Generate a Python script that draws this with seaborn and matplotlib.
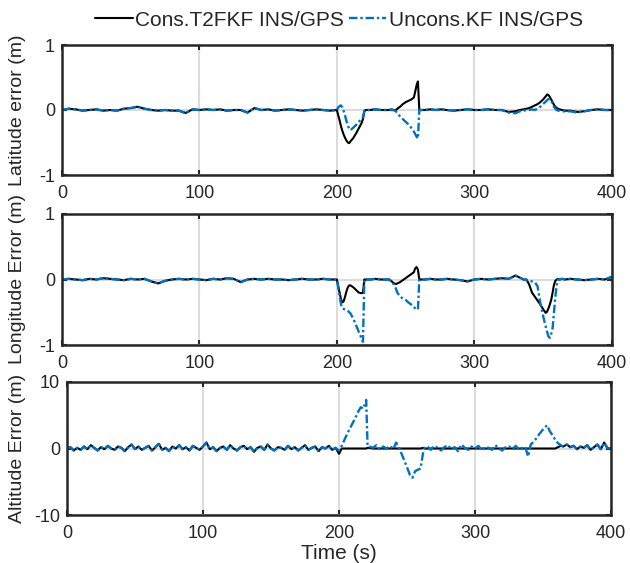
import matplotlib
matplotlib.use("Agg")
import matplotlib.pyplot as plt
import seaborn as sns

# ---------------- data ----------------
labels = ["Cons.T2FKF INS/GPS", "Uncons.KF INS/GPS"]

# sample times (s) for the horizontal position errors
t_hz = [0, 5, 10, 15, 20, 25, 30, 35, 40, 45, 50, 55, 60, 65, 70, 75, 80, 85, 90, 95,
        100, 105, 110, 115, 120, 125, 130, 135, 140, 145, 150, 155, 160, 165, 170, 175,
        180, 185, 190, 195,
        200, 201, 202, 203, 204, 205, 206, 207, 208, 209, 210,
        212, 214, 216, 218, 219, 220, 221,
        224, 228, 232, 236, 238, 240, 241, 242, 243, 244,
        246, 248, 250, 252, 254, 256, 257, 258, 259, 260, 261,
        264, 268, 272, 276, 280, 285, 290, 295, 300, 305, 310, 315, 320, 325, 330,
        333, 336, 338, 340, 342, 344, 346, 348, 350, 352,
        353, 354, 355, 356, 357, 358, 359, 360, 361, 362,
        364, 366, 370, 375, 380, 385, 390, 395, 400]

lat_cons = [0.00, 0.02, 0.01, -0.01, 0.00, 0.01, -0.01, 0.00, -0.01, 0.02,
            0.03, 0.05, 0.02, 0.00, -0.01, 0.00, -0.01, -0.01, -0.045, 0.01,
            0.00, 0.01, 0.00, 0.01, -0.01, 0.00, 0.00, -0.04, 0.03, 0.00,
            0.01, -0.01, 0.00, 0.01, 0.00, -0.01, 0.00, 0.01, 0.00, -0.01,
            0.00, -0.08, -0.16, -0.25, -0.32, -0.38, -0.43, -0.47, -0.50, -0.51, -0.48,
            -0.43, -0.36, -0.28, -0.20, -0.14, -0.02, 0.00,
            0.00, 0.01, 0.00, 0.00, 0.00, 0.01, 0.00, 0.00, 0.00, 0.02,
            0.05, 0.09, 0.12, 0.14, 0.16, 0.19, 0.28, 0.38, 0.44, 0.00, 0.00,
            0.00, 0.01, 0.00, 0.01, 0.00, -0.01, 0.00, 0.01, 0.00, 0.00, 0.01, 0.00, 0.00, -0.03, -0.02,
            0.00, 0.01, 0.02, 0.03, 0.05, 0.07, 0.09, 0.12, 0.16, 0.21,
            0.24, 0.23, 0.20, 0.16, 0.12, 0.08, 0.05, 0.03, 0.02, 0.01,
            0.00, -0.01, -0.01, -0.03, -0.02, 0.00, 0.01, 0.00, 0.00]

lat_uncons = [0.00, 0.02, 0.01, -0.01, 0.00, 0.01, -0.01, 0.00, -0.01, 0.02,
              0.03, 0.05, 0.02, 0.00, -0.01, 0.00, -0.01, -0.01, -0.05, 0.01,
              0.00, 0.01, 0.00, 0.01, -0.01, 0.00, 0.00, -0.04, 0.03, 0.00,
              0.01, -0.01, 0.00, 0.01, 0.00, -0.01, 0.00, 0.01, 0.00, -0.01,
              0.00, 0.04, 0.06, 0.07, 0.04, -0.02, -0.09, -0.17, -0.24, -0.29, -0.31,
              -0.27, -0.23, -0.18, -0.14, -0.11, -0.01, 0.00,
              0.00, 0.01, 0.00, 0.00, 0.00, 0.00, 0.00, -0.01, -0.02, -0.05,
              -0.10, -0.14, -0.18, -0.22, -0.27, -0.33, -0.37, -0.41, -0.44, 0.00, 0.00,
              0.00, 0.01, 0.00, 0.01, 0.00, -0.01, 0.00, 0.01, 0.00, 0.00, 0.01, 0.00, 0.00, -0.04, -0.05,
              -0.02, -0.01, 0.00, 0.00, 0.01, 0.00, 0.02, 0.05, 0.09, 0.13,
              0.15, 0.17, 0.17, 0.14, 0.10, 0.05, 0.02, 0.00, -0.01, -0.01,
              -0.02, -0.02, -0.02, -0.04, -0.02, 0.00, 0.01, 0.00, 0.00]

lon_cons = [0.00, 0.01, 0.00, -0.01, 0.01, 0.00, 0.02, 0.01, 0.00, -0.01,
            0.01, 0.00, 0.01, -0.03, -0.06, -0.02, 0.00, 0.01, 0.00, 0.01,
            0.00, -0.01, 0.01, 0.00, 0.02, 0.01, -0.04, 0.00, 0.01, 0.00,
            0.01, 0.00, 0.00, -0.01, 0.00, 0.01, 0.00, 0.00, 0.01, 0.00,
            0.00, -0.10, -0.20, -0.30, -0.35, -0.33, -0.26, -0.18, -0.12, -0.09, -0.09,
            -0.12, -0.16, -0.20, -0.21, -0.20, 0.00, 0.00,
            0.00, 0.01, 0.00, 0.00, 0.00, -0.03, -0.05, -0.06, -0.07, -0.06,
            -0.04, -0.01, 0.02, 0.05, 0.08, 0.11, 0.17, 0.19, 0.15, 0.00, 0.00,
            0.00, 0.01, 0.00, 0.00, 0.01, 0.00, -0.01, -0.03, 0.00, 0.01, 0.00, 0.01, 0.02, 0.01, 0.06,
            0.03, 0.00, 0.00, -0.08, -0.20, -0.26, -0.32, -0.38, -0.45, -0.51,
            -0.49, -0.44, -0.38, -0.31, -0.20, -0.08, -0.02, 0.00, 0.01, 0.00,
            0.01, 0.00, 0.01, 0.00, -0.01, 0.00, 0.01, 0.00, 0.04]

lon_uncons = [0.00, 0.01, 0.00, -0.01, 0.01, 0.00, 0.02, 0.01, 0.00, -0.01,
              0.01, 0.00, 0.01, -0.03, -0.06, -0.02, 0.00, 0.01, 0.00, 0.01,
              0.00, -0.01, 0.01, 0.00, 0.02, 0.01, -0.04, 0.00, 0.01, 0.00,
              0.01, 0.00, 0.00, -0.01, 0.00, 0.01, 0.00, 0.00, 0.01, 0.00,
              0.00, -0.12, -0.25, -0.38, -0.44, -0.45, -0.46, -0.47, -0.48, -0.50, -0.52,
              -0.60, -0.70, -0.80, -0.90, -0.95, 0.00, 0.00,
              0.00, 0.01, 0.00, 0.00, 0.00, -0.03, -0.06, -0.10, -0.14, -0.20,
              -0.26, -0.29, -0.31, -0.35, -0.38, -0.42, -0.44, -0.45, -0.46, 0.00, 0.00,
              0.00, 0.01, 0.00, 0.00, 0.01, 0.00, -0.01, -0.03, 0.00, 0.01, 0.00, 0.01, 0.02, 0.01, 0.06,
              0.03, 0.00, -0.01, -0.02, -0.03, -0.04, -0.10, -0.35, -0.55, -0.72,
              -0.80, -0.87, -0.89, -0.83, -0.74, -0.50, -0.27, -0.08, 0.00, 0.00,
              0.01, 0.00, 0.01, 0.00, -0.01, 0.00, 0.01, 0.00, 0.04]

# sample times (s) for the altitude error
t_alt = [0, 2.5, 5, 7.5, 10, 12.5, 15, 17.5, 20, 22.5, 25, 27.5, 30, 32.5, 35, 37.5,
         40, 42.5, 45, 47.5, 50, 52.5, 55, 57.5, 60, 62.5, 65, 67.5, 70, 72.5, 75, 77.5,
         80, 82.5, 85, 87.5, 90, 92.5, 95, 97.5, 100, 102.5, 105, 107.5, 110, 112.5,
         115, 117.5, 120, 122.5, 125, 127.5, 130, 132.5, 135, 137.5, 140, 142.5, 145,
         147.5, 150, 152.5, 155, 157.5, 160, 162.5, 165, 167.5, 170, 172.5, 175, 177.5,
         180, 182.5, 185, 187.5, 190, 192.5, 195, 197.5,
         200, 202, 204, 206, 208, 210, 212, 214, 216, 218, 220, 221, 222.5,
         225, 227.5, 230, 232.5, 235, 237.5, 240,
         242, 244, 246, 248, 250, 252, 254, 256, 258, 260, 262, 263,
         265, 267.5, 270, 272.5, 275, 277.5, 280, 282.5, 285, 287.5, 290, 292.5, 295,
         297.5, 300, 302.5, 305, 307.5, 310, 312.5, 315, 317.5, 320, 322.5, 325, 327.5,
         330, 332.5, 335,
         337, 339, 341, 343, 345, 347, 349, 351, 353, 355, 357, 359, 361, 363,
         365, 367.5, 370, 372.5, 375, 377.5, 380, 382.5, 385, 387.5, 390, 392.5, 395,
         397.5, 400]

# altitude error while GPS is available (both filters coincide)
alt_gps_head = [0.0, 0.2, -0.3, 0.1, -0.2, 0.3, -0.1, 0.5, 0.1, -0.3,
                0.2, -0.1, 0.4, 0.0, -0.2, 0.3, 0.1, -0.4, 0.2, 0.6,
                -0.1, 0.3, -0.2, 0.1, 0.4, -0.3, 0.2, 0.7, -0.2, 0.1,
                -0.4, 0.3, 0.0, 0.5, -0.1, 0.2, -0.3, 0.4, 0.1, -0.2,
                0.3, 0.9, -0.1, 0.2, -0.4, 0.1, 0.3, -0.2, 0.5, 0.0,
                -0.3, 0.2, 0.4, -0.1, 0.2, -0.5, 0.1, 0.3, -0.2, 0.6,
                0.0, -0.3, 0.2, 0.1, -0.2, 0.4, -0.1, 0.2, -0.3, 0.1,
                0.5, -0.2, 0.1, 0.3, -0.4, 0.2, 0.0, 0.4, -0.2, 0.1]
alt_gps_tail = [0.3, 0.6, 0.2, 0.4, -0.1, 0.3, 0.1, 0.5, -0.2, 0.2,
                0.6, -0.1, 0.9, 0.0, 0.1]

alt_cons = alt_gps_head + [
    -0.8, 0.0, 0.0, 0.0, 0.0, 0.0, 0.0, 0.0, 0.0, 0.0, 0.0, 0.1, 0.1,
    0.0, 0.0, 0.0, 0.0, 0.0, 0.0, 0.0,
    0.0, 0.0, 0.0, 0.0, 0.0, 0.0, 0.0, 0.0, 0.0, 0.0, 0.1, 0.0,
    0.0, 0.0, 0.0, 0.0, 0.0, 0.0, 0.0, 0.0, 0.0, 0.0, 0.0, 0.0, 0.0, 0.0, 0.0,
    0.0, 0.0, 0.0, 0.0, 0.0, 0.0, 0.0, 0.0, 0.0, 0.0, 0.0, 0.0, 0.0, 0.0,
    0.0, 0.0, 0.0, 0.0, 0.0, 0.0, 0.0, 0.0, 0.0, 0.0, 0.0, 0.0, 0.2, 0.4,
] + alt_gps_tail

alt_uncons = alt_gps_head + [
    -0.3, 0.4, 1.3, 2.2, 3.0, 3.8, 4.6, 5.5, 6.2, 6.0, 7.3, 0.4, 0.3,
    0.1, 0.5, -0.2, 0.3, 0.0, 0.4, -0.1,
    0.9, 0.2, -0.8, -1.8, -2.8, -3.9, -4.4, -3.4, -3.2, -3.0, -0.4, 0.1,
    0.3, -0.2, 0.4, 0.1, -0.3, 0.2, 0.5, -0.1, 0.2, -0.4, 0.6, 0.1, -0.2, 0.3, 0.0,
    0.4, -0.3, 0.2, 0.1, -0.2, 0.5, 0.0, -0.3, 0.2, 0.3, -0.1, 0.4, -0.2, 0.1,
    0.2, -1.2, 0.6, 1.0, 1.5, 2.1, 2.6, 3.1, 3.5, 2.6, 2.0, 1.3, 0.8, 0.5,
] + alt_gps_tail

panels = [
    ("Latitude error (m)", t_hz, lat_cons, lat_uncons, [-1, 0, 1]),
    ("Longitude Error (m)", t_hz, lon_cons, lon_uncons, [-1, 0, 1]),
    ("Altitude Error (m)", t_alt, alt_cons, alt_uncons, [-10, 0, 10]),
]
x_ticks = [0, 100, 200, 300, 400]

# ---------------- style ----------------
sns.set_theme(style="white")
plt.rcParams["font.family"] = ["Liberation Sans", "DejaVu Sans"]
plt.rcParams["axes.unicode_minus"] = False

INK = "#262626"
BLUE = "#0072BD"
GRID = "#DCDCDC"

fig = plt.figure(figsize=(6.30, 5.63), dpi=100)
W, H = 630.0, 563.0
# axes boxes in pixel coordinates: left, top, right, bottom
boxes = [(62, 45, 611.7, 175), (62, 214, 611.7, 345), (67, 382, 611, 515)]

axes = []
for (ylabel, t, cons, uncons, yt), (l, tp, r, b) in zip(panels, boxes):
    ax = fig.add_axes([l / W, 1 - b / H, (r - l) / W, (b - tp) / H])
    sns.lineplot(x=t, y=cons, ax=ax, color="black", linewidth=1.5,
                 estimator=None, label=labels[0], legend=False)
    sns.lineplot(x=t, y=uncons, ax=ax, color=BLUE, linewidth=1.7,
                 estimator=None, label=labels[1], legend=False)
    ax.lines[-1].set_dashes([3.6, 1.2, 1.0, 1.2])

    ax.set_xlim(0, 400)
    ax.set_ylim(yt[0], yt[-1])
    ax.set_xticks(x_ticks)
    ax.set_yticks(yt)
    ax.grid(True, color=GRID, linewidth=1.5)
    ax.set_axisbelow(True)
    for s in ax.spines.values():
        s.set_color(INK)
        s.set_linewidth(1.8)
        s.set_visible(True)
    ax.tick_params(direction="in", length=3.5, width=1.5, color=INK,
                   top=True, right=True, bottom=True, left=True,
                   labelsize=13, labelcolor=INK)
    ax.tick_params(axis="x", pad=7)
    ax.tick_params(axis="y", pad=5)
    ax.set_ylabel(ylabel, fontsize=14, color=INK)
    ax.yaxis.set_label_coords((26 - l) / (r - l), 0.5)
    ax.set_xlabel("")
    axes.append(ax)

axes[-1].set_xlabel("Time (s)", fontsize=15, color=INK)
axes[-1].xaxis.set_label_coords(0.5, -(544 - 515) / (515 - 382))

handles = axes[0].lines[:2]
fig.legend(handles, labels, loc="center", bbox_to_anchor=(339 / W, 1 - 20 / H),
           ncol=2, frameon=False, fontsize=15, handlelength=1.8,
           handletextpad=0.1, columnspacing=0.25, labelcolor=INK)

fig.savefig("out.png", dpi=100)
